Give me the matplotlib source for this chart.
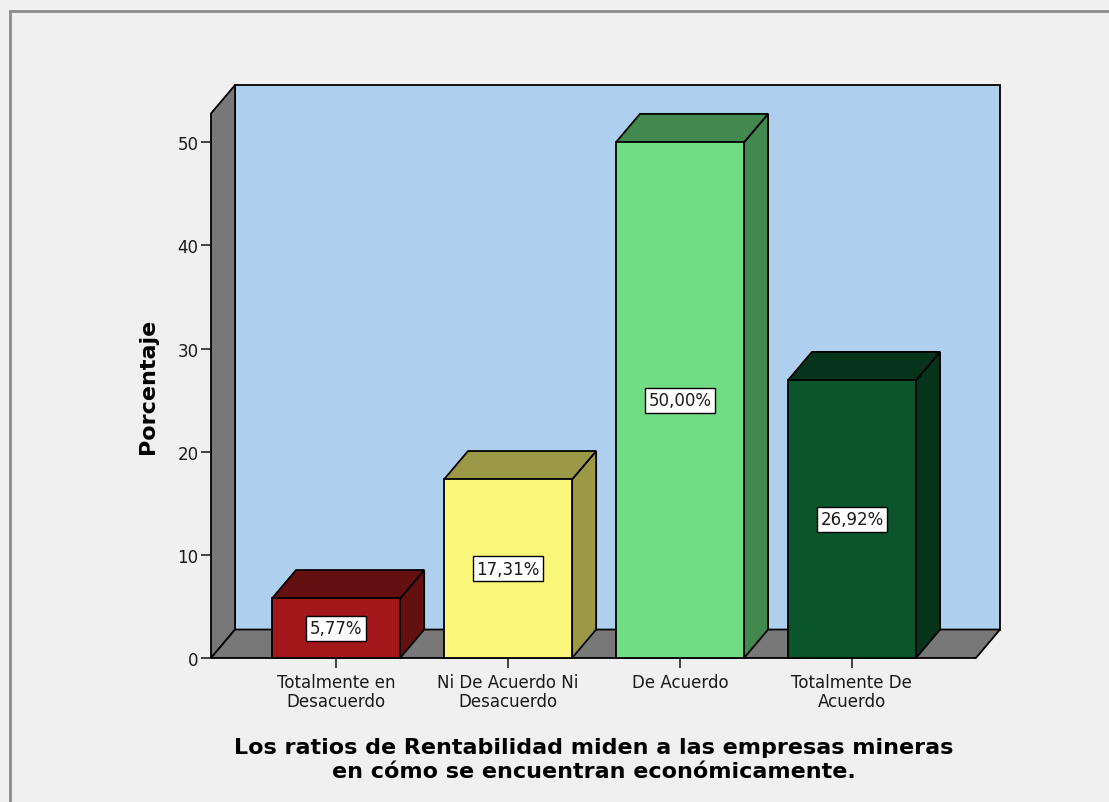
import matplotlib
matplotlib.use('Agg')
import matplotlib.pyplot as plt
from matplotlib.patches import Polygon, Rectangle

# === DATA ===
categories = ['Totalmente en\nDesacuerdo', 'Ni De Acuerdo Ni\nDesacuerdo',
              'De Acuerdo', 'Totalmente De\nAcuerdo']
percentages = [5.77, 17.31, 50.00, 26.92]
value_labels = ['5,77%', '17,31%', '50,00%', '26,92%']
front_colors = ['#A3161A', '#FAF67A', '#70DD85', '#0B552C']
shade_colors = ['#640F10', '#9C9946', '#43894F', '#06341B']
y_ticks = [0, 10, 20, 30, 40, 50]

# === 3D LOOK SETTINGS ===
bar_w = 0.745
dx, dy = 0.14, 2.76        # depth offset in data units
x_left, x_right = -0.727, 3.721
y_top = 52.8
wall_gray = '#787878'
wall_blue = '#AECFEE'
bg = '#F0F0F0'

fig = plt.figure(figsize=(11.09, 8.03), dpi=100, facecolor=bg)

# outer frame (only top and left are visible in the crop)
frame = Rectangle((10 / 1109, -0.05), 1.2, (803 - 12) / 803 + 0.05,
                  transform=fig.transFigure, fill=False,
                  edgecolor='#8A8A8A', linewidth=2)
fig.patches.append(frame)

ax = fig.add_axes([211 / 1109, (803 - 659) / 803,
                   (1000 - 211) / 1109, (659 - 86) / 803])
ax.set_facecolor('none')
ax.set_xlim(x_left, x_right + dx)
ax.set_ylim(0, y_top + dy)
for s in ax.spines.values():
    s.set_visible(False)

lw = 1.3
# back wall
ax.add_patch(Rectangle((x_left + dx, dy), x_right - x_left, y_top,
                       facecolor=wall_blue, edgecolor='black', lw=lw,
                       zorder=1, clip_on=False))
# left side wall
ax.add_patch(Polygon([(x_left, 0), (x_left, y_top), (x_left + dx, y_top + dy),
                      (x_left + dx, dy)], closed=True,
                     facecolor=wall_gray, edgecolor='black', lw=lw,
                     zorder=2, clip_on=False))
# floor
ax.add_patch(Polygon([(x_left, 0), (x_right, 0), (x_right + dx, dy),
                      (x_left + dx, dy)], closed=True,
                     facecolor=wall_gray, edgecolor='black', lw=lw,
                     zorder=2, clip_on=False))

# bars
for i, v in enumerate(percentages):
    l, r = i - bar_w / 2, i + bar_w / 2
    ax.add_patch(Polygon([(r, 0), (r + dx, dy), (r + dx, v + dy), (r, v)],
                         closed=True, facecolor=shade_colors[i],
                         edgecolor='black', lw=lw, zorder=3, clip_on=False))
    ax.add_patch(Polygon([(l, v), (r, v), (r + dx, v + dy), (l + dx, v + dy)],
                         closed=True, facecolor=shade_colors[i],
                         edgecolor='black', lw=lw, zorder=3, clip_on=False))
    ax.add_patch(Rectangle((l, 0), bar_w, v, facecolor=front_colors[i],
                           edgecolor='black', lw=lw, zorder=4, clip_on=False))
    ax.text(i, v / 2, value_labels[i], ha='center', va='center',
            fontsize=12, color='#1A1A1A', zorder=5,
            bbox=dict(boxstyle='square,pad=0.2', facecolor='white',
                      edgecolor='black', linewidth=1))

# ticks
ax.set_yticks(y_ticks)
ax.set_yticklabels([str(t) for t in y_ticks])
ax.set_xticks(range(len(categories)))
ax.set_xticklabels(categories, linespacing=1.05)
ax.tick_params(axis='both', labelsize=12, length=7, width=1.3,
               colors='#333333', labelcolor='#1A1A1A')
ax.tick_params(axis='x', pad=4)
ax.tick_params(axis='y', pad=2)

# axis titles
fig.text(148 / 1109, 1 - 386 / 803, 'Porcentaje', rotation=90,
         ha='center', va='center', fontsize=16, fontweight='bold')
fig.text(594 / 1109, 1 - 760 / 803,
         'Los ratios de Rentabilidad miden a las empresas mineras\n'
         'en cómo se encuentran económicamente.',
         ha='center', va='center', fontsize=16, fontweight='bold',
         linespacing=1.2)

fig.savefig('out.png', dpi=100, facecolor=bg)
